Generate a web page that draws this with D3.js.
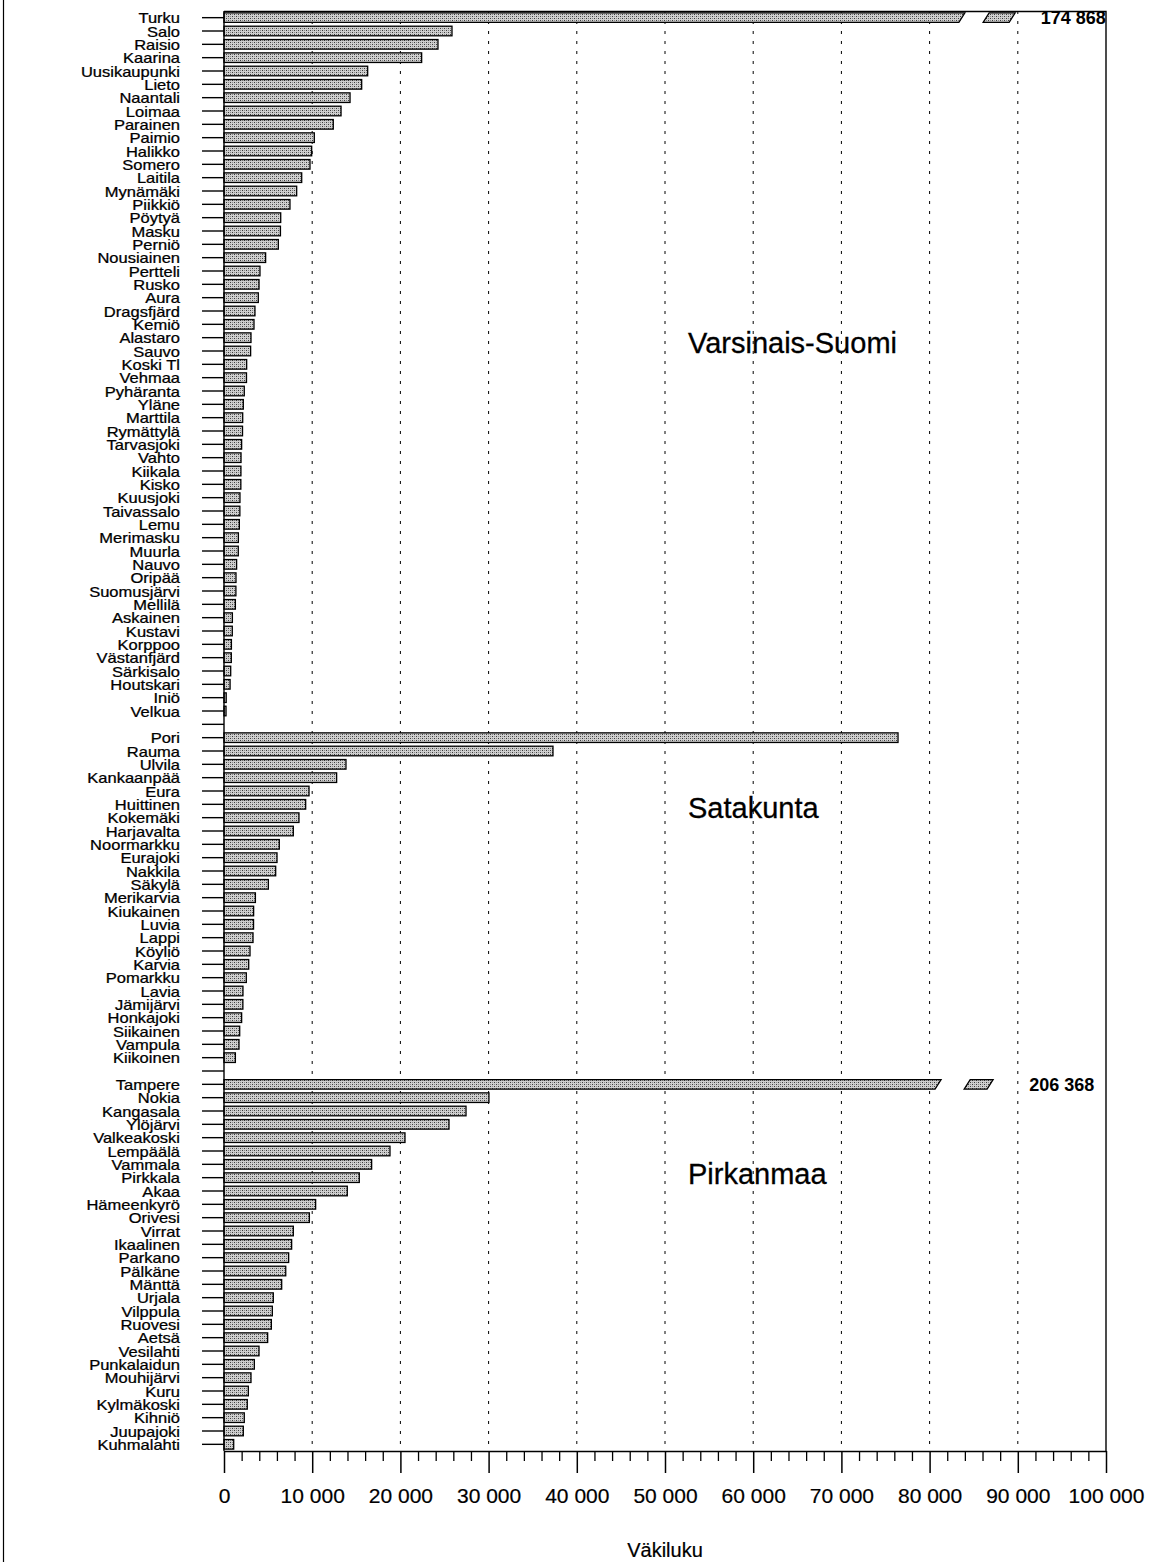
<!DOCTYPE html>
<html>
<head>
<meta charset="utf-8">
<script src="https://cdn.jsdelivr.net/npm/d3@7"></script>
<style>
  html, body { margin: 0; padding: 0; background: #fff; }
  svg { display: block; font-family: "Liberation Sans", Arial, sans-serif; }
</style>
</head>
<body>
<svg id="chart" width="1150" height="1562"></svg>
<script>
// ---------------- DATA ----------------
const regionNames = ["Varsinais-Suomi", "Satakunta", "Pirkanmaa"];

const varsinaisNames = ["Turku","Salo","Raisio","Kaarina","Uusikaupunki","Lieto","Naantali","Loimaa","Parainen","Paimio","Halikko","Somero","Laitila","Mynämäki","Piikkiö","Pöytyä","Masku","Perniö","Nousiainen","Pertteli","Rusko","Aura","Dragsfjärd","Kemiö","Alastaro","Sauvo","Koski Tl","Vehmaa","Pyhäranta","Yläne","Marttila","Rymättylä","Tarvasjoki","Vahto","Kiikala","Kisko","Kuusjoki","Taivassalo","Lemu","Merimasku","Muurla","Nauvo","Oripää","Suomusjärvi","Mellilä","Askainen","Kustavi","Korppoo","Västanfjärd","Särkisalo","Houtskari","Iniö","Velkua"];
const varsinaisValues = [174868,25850,24260,22410,16290,15610,14290,13270,12390,10240,9940,9750,8810,8240,7480,6430,6400,6160,4720,4080,3970,3890,3510,3400,3060,3020,2570,2550,2300,2190,2120,2100,2000,1930,1920,1910,1810,1800,1740,1630,1620,1430,1360,1350,1290,950,940,840,830,760,690,250,230];

const satakuntaNames = ["Pori","Rauma","Ulvila","Kankaanpää","Eura","Huittinen","Kokemäki","Harjavalta","Noormarkku","Eurajoki","Nakkila","Säkylä","Merikarvia","Kiukainen","Luvia","Lappi","Köyliö","Karvia","Pomarkku","Lavia","Jämijärvi","Honkajoki","Siikainen","Vampula","Kiikoinen"];
const satakuntaValues = [76420,37300,13830,12770,9640,9260,8500,7860,6270,6010,5860,5030,3560,3360,3350,3290,2950,2800,2530,2150,2140,2000,1780,1700,1290];

const pirkanmaaNames = ["Tampere","Nokia","Kangasala","Ylöjärvi","Valkeakoski","Lempäälä","Vammala","Pirkkala","Akaa","Hämeenkyrö","Orivesi","Virrat","Ikaalinen","Parkano","Pälkäne","Mänttä","Urjala","Vilppula","Ruovesi","Aetsä","Vesilahti","Punkalaidun","Mouhijärvi","Kuru","Kylmäkoski","Kihniö","Juupajoki","Kuhmalahti"];
const pirkanmaaValues = [206368,30040,27440,25510,20520,18820,16740,15340,13980,10390,9680,7860,7670,7330,7000,6540,5590,5480,5370,4950,3970,3440,3060,2760,2640,2300,2190,1100];

const xTickValues = [0,10000,20000,30000,40000,50000,60000,70000,80000,90000,100000];
const xMinorStep = 2000;
const xAxisTitle = "Väkiluku";

// ---------------- LAYOUT / STYLE ----------------
const svg = d3.select("#chart");
const X0 = 224, X1 = 1106, YTOP = 11, YAXIS = 1451;
const FONT = "'Liberation Sans', Arial, sans-serif";

// break settings for values beyond the axis max (style, in axis units)
const breakStyle = {
  "Turku":   { mainEnd: 84000, pieceStart: 86750, pieceEnd: 89700, labelX: 92600 },
  "Tampere": { mainEnd: 81300, pieceStart: 84600, pieceEnd: 87200, labelX: 91300 }
};
const regionLabelPos = [
  { x: 688, baseline: 353 },
  { x: 688, baseline: 818 },
  { x: 688, baseline: 1184 }
];

// Build rows
const regions = [
  { names: varsinaisNames, values: varsinaisValues },
  { names: satakuntaNames, values: satakuntaValues },
  { names: pirkanmaaNames, values: pirkanmaaValues }
];
const rows = [];
regions.forEach((r, ri) => {
  r.names.forEach((n, i) => rows.push({ key: n, name: n, value: r.values[i], region: ri }));
  if (ri < regions.length - 1) rows.push({ key: "__gap" + ri, name: "", value: null, region: ri });
});

const x = d3.scaleLinear().domain([0, 100000]).range([X0, X1]);
const y = d3.scaleBand().domain(rows.map(d => d.key)).range([YTOP, YAXIS])
  .paddingInner(0.28).paddingOuter(0.14);

const locale = d3.formatLocale({ thousands: " ", grouping: [3], decimal: ",", currency: ["", ""] });
const fmt = locale.format(",d");

// pattern
const defs = svg.append("defs");
const pat = defs.append("pattern").attr("id", "stip").attr("patternUnits", "userSpaceOnUse")
  .attr("width", 4).attr("height", 4);
pat.append("rect").attr("width", 4).attr("height", 4).attr("fill", "#cfcfcf");
[[0,0],[2,2]].forEach(p => pat.append("rect").attr("x", p[0]).attr("y", p[1]).attr("width", 1).attr("height", 1).attr("fill", "#3c3c3c"));
[[2,0],[0,2]].forEach(p => pat.append("rect").attr("x", p[0]).attr("y", p[1]).attr("width", 1).attr("height", 1).attr("fill", "#8a8a8a"));

// page border at left
svg.append("line").attr("x1", 3.5).attr("x2", 3.5).attr("y1", 0).attr("y2", 1562)
  .attr("stroke", "#000").attr("stroke-width", 1.2);

// grid lines
svg.append("g").selectAll("line").data(xTickValues.filter(v => v > 0 && v < 100000)).join("line")
  .attr("x1", d => x(d)).attr("x2", d => x(d))
  .attr("y1", YTOP).attr("y2", YAXIS)
  .attr("stroke", "#000").attr("stroke-width", 1)
  .attr("stroke-dasharray", "3,7");

// frame top and right
svg.append("path")
  .attr("d", `M${X0},${YTOP + 0.5}H${X1}V${YAXIS}`)
  .attr("fill", "none").attr("stroke", "#000").attr("stroke-width", 1.4);

// bars
const barG = svg.append("g");
const data = rows.filter(d => d.value !== null);
const maxV = x.domain()[1];
const slant = 6;
data.forEach(d => {
  const y0 = y(d.key), h = y.bandwidth(), y1 = y0 + h;
  if (d.value <= maxV) {
    barG.append("rect")
      .attr("x", x(0)).attr("y", y0)
      .attr("width", x(d.value) - x(0)).attr("height", h)
      .attr("fill", "url(#stip)").attr("stroke", "#000").attr("stroke-width", 1.3);
  } else {
    const b = breakStyle[d.name];
    const me = x(b.mainEnd);
    barG.append("path")
      .attr("d", `M${x(0)},${y0}H${me}L${me - slant},${y1}H${x(0)}Z`)
      .attr("fill", "url(#stip)").attr("stroke", "#000").attr("stroke-width", 1.3);
    const ps = x(b.pieceStart), pe = x(b.pieceEnd);
    barG.append("path")
      .attr("d", `M${ps},${y0}H${pe}L${pe - slant},${y1}H${ps - slant}Z`)
      .attr("fill", "url(#stip)").attr("stroke", "#000").attr("stroke-width", 1.3);
    barG.append("text")
      .attr("x", x(b.labelX)).attr("y", y0 + h / 2)
      .attr("dy", "0.36em")
      .attr("font-family", FONT).attr("font-weight", "bold").attr("font-size", 18)
      .text(fmt(d.value));
  }
});

// y axis
const LS = 1.18; // horizontal stretch of category labels
const yAxis = d3.axisLeft(y).tickSize(22).tickPadding(22).tickSizeOuter(0)
  .tickFormat(k => { const r = rows.find(rr => rr.key === k); return r ? r.name : ""; });
const yg = svg.append("g").attr("transform", `translate(${X0},0)`).call(yAxis);
yg.select(".domain").attr("d", `M0,${YTOP}V${YAXIS}`).attr("stroke", "#000").attr("stroke-width", 1.4);
yg.selectAll(".tick line").attr("stroke", "#000").attr("stroke-width", 1.4);
yg.selectAll(".tick text")
  .attr("font-family", FONT).attr("font-size", 14).attr("fill", "#000")
  .attr("stroke", "#000").attr("stroke-width", 0.25)
  .attr("x", -44 / LS).attr("dy", "0.4em")
  .attr("transform", `scale(${LS},1)`);

// x axis
const xAxis = d3.axisBottom(x).tickValues(xTickValues).tickSize(22).tickSizeOuter(0).tickPadding(15).tickFormat(fmt);
const xg = svg.append("g").attr("transform", `translate(0,${YAXIS})`).call(xAxis);
xg.select(".domain").attr("stroke", "#000").attr("stroke-width", 1.4);
xg.selectAll(".tick line").attr("stroke", "#000").attr("stroke-width", 1.5);
xg.selectAll(".tick text").attr("font-family", FONT).attr("font-size", 21).attr("fill", "#000")
  .attr("stroke", "#000").attr("stroke-width", 0.2);

const minorVals = d3.range(0, 100001, xMinorStep).filter(v => !xTickValues.includes(v));
const xMinor = d3.axisBottom(x).tickValues(minorVals).tickSize(10).tickSizeOuter(0).tickFormat("");
const xm = svg.append("g").attr("transform", `translate(0,${YAXIS})`).call(xMinor);
xm.select(".domain").remove();
xm.selectAll(".tick line").attr("stroke", "#000").attr("stroke-width", 1.3);

// region labels
svg.append("g").selectAll("text").data(regionNames).join("text")
  .attr("x", (d, i) => regionLabelPos[i].x).attr("y", (d, i) => regionLabelPos[i].baseline)
  .attr("font-family", FONT).attr("font-size", 29).attr("fill", "#000")
  .attr("stroke", "#000").attr("stroke-width", 0.3)
  .text(d => d);

// axis title
svg.append("text").attr("x", (X0 + X1) / 2).attr("y", 1557)
  .attr("text-anchor", "middle")
  .attr("font-family", FONT).attr("font-size", 20).attr("fill", "#000")
  .attr("stroke", "#000").attr("stroke-width", 0.2)
  .text(xAxisTitle);
</script>
</body>
</html>
